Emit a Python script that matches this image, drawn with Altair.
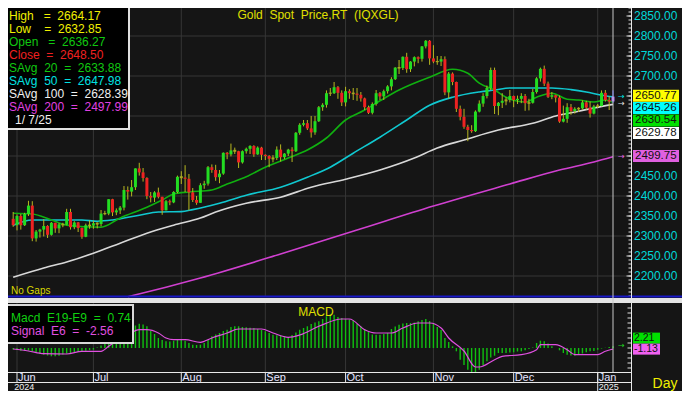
import altair as alt
import pandas as pd

# ---------------- data ----------------
dates = pd.bdate_range("2024-05-31", "2025-01-07")

opens = [2343, 2327, 2350, 2327, 2355, 2376, 2294, 2311, 2316, 2325, 2303, 2333, 2319, 2329, 2328, 2360, 2322, 2334, 2320, 2298, 2327,
         2326, 2332, 2330, 2356, 2356, 2392, 2359, 2364, 2371, 2415, 2411, 2422, 2469, 2459, 2445, 2400, 2396, 2409, 2398, 2364, 2387, 2384, 2410,
         2448, 2446, 2443, 2409, 2390, 2383, 2427, 2431, 2472, 2465, 2447, 2456, 2508, 2504, 2514, 2512, 2484, 2512, 2518, 2525, 2504, 2521,
         2503, 2500, 2493, 2495, 2516, 2497, 2506, 2516, 2512, 2558, 2578, 2582, 2569, 2559, 2587, 2622, 2628, 2657, 2657, 2672, 2658,
         2634, 2662, 2657, 2656, 2653, 2644, 2622, 2608, 2630, 2657, 2649, 2662, 2674, 2692, 2721, 2720, 2748, 2717, 2736, 2747, 2743, 2774, 2788,
         2744, 2736, 2736, 2742, 2659, 2706, 2685, 2618, 2598, 2573, 2565, 2562, 2611, 2631, 2650, 2670, 2715, 2625, 2633, 2638, 2640,
         2650, 2640, 2643, 2650, 2632, 2633, 2660, 2694, 2718, 2681, 2648, 2652, 2646, 2586, 2593, 2622, 2612, 2618, 2619, 2634, 2621, 2606,
         2624, 2625, 2658, 2640, 2636.27]
highs = [2360, 2354, 2355, 2358, 2388, 2387, 2315, 2318, 2342, 2327, 2335, 2333, 2332, 2333, 2368, 2368, 2337, 2335, 2321, 2331, 2339,
         2338, 2334, 2365, 2363, 2392, 2393, 2369, 2375, 2425, 2424, 2440, 2469, 2483, 2470, 2447, 2410, 2412, 2421, 2398, 2390, 2391, 2412, 2451,
         2462, 2477, 2455, 2420, 2400, 2432, 2438, 2475, 2479, 2478, 2465, 2509, 2510, 2531, 2521, 2513, 2514, 2521, 2527, 2527, 2524, 2523,
         2504, 2502, 2502, 2524, 2529, 2507, 2518, 2522, 2560, 2582, 2590, 2590, 2600, 2600, 2625, 2632, 2664, 2670, 2685, 2675, 2664,
         2673, 2667, 2670, 2670, 2660, 2646, 2626, 2634, 2665, 2660, 2666, 2677, 2697, 2722, 2740, 2749, 2758, 2737, 2749, 2749, 2775, 2790, 2790,
         2777, 2750, 2750, 2749, 2710, 2709, 2686, 2626, 2618, 2578, 2577, 2614, 2639, 2657, 2676, 2721, 2721, 2635, 2657, 2647, 2665,
         2651, 2651, 2657, 2655, 2643, 2668, 2697, 2721, 2726, 2686, 2660, 2653, 2651, 2626, 2632, 2630, 2622, 2622, 2639, 2638, 2636, 2628,
         2630, 2664, 2665, 2649, 2664.17]
lows = [2323, 2314, 2316, 2325, 2350, 2287, 2286, 2296, 2299, 2295, 2301, 2308, 2307, 2322, 2327, 2316, 2317, 2310, 2293, 2297, 2318,
        2318, 2319, 2324, 2352, 2352, 2350, 2352, 2355, 2364, 2391, 2399, 2415, 2451, 2436, 2392, 2384, 2385, 2394, 2353, 2364, 2377, 2382, 2407,
        2430, 2410, 2364, 2385, 2378, 2383, 2418, 2426, 2458, 2438, 2432, 2453, 2492, 2499, 2505, 2470, 2481, 2506, 2505, 2498, 2503, 2490,
        2490, 2472, 2484, 2490, 2486, 2492, 2500, 2485, 2510, 2553, 2574, 2565, 2546, 2553, 2585, 2613, 2621, 2650, 2655, 2643, 2625,
        2624, 2643, 2640, 2638, 2636, 2615, 2605, 2604, 2626, 2640, 2640, 2656, 2664, 2690, 2705, 2715, 2708, 2710, 2724, 2732, 2736, 2769, 2728,
        2732, 2728, 2725, 2652, 2644, 2677, 2610, 2589, 2568, 2537, 2558, 2560, 2609, 2623, 2644, 2665, 2605, 2602, 2620, 2627, 2634,
        2622, 2630, 2632, 2613, 2614, 2631, 2656, 2686, 2675, 2645, 2642, 2634, 2583, 2584, 2583, 2603, 2606, 2610, 2616, 2616, 2596, 2604,
        2620, 2624, 2636, 2615, 2632.85]
closes = [2327, 2350, 2327, 2355, 2376, 2294, 2311, 2316, 2325, 2303, 2333, 2319, 2329, 2328, 2360, 2322, 2334, 2320, 2298, 2327, 2326,
          2332, 2330, 2356, 2356, 2392, 2359, 2364, 2371, 2415, 2411, 2422, 2469, 2459, 2445, 2400, 2396, 2409, 2398, 2364, 2387, 2384, 2410, 2448,
          2446, 2443, 2409, 2390, 2383, 2427, 2431, 2472, 2465, 2447, 2456, 2508, 2504, 2514, 2512, 2484, 2512, 2518, 2525, 2504, 2521, 2503,
          2500, 2493, 2495, 2516, 2497, 2506, 2516, 2512, 2558, 2578, 2582, 2569, 2559, 2587, 2622, 2628, 2657, 2657, 2672, 2658, 2634,
          2662, 2657, 2656, 2653, 2644, 2622, 2608, 2630, 2657, 2649, 2662, 2674, 2692, 2721, 2720, 2748, 2717, 2736, 2747, 2743, 2774, 2788, 2744,
          2736, 2736, 2742, 2659, 2706, 2685, 2618, 2598, 2573, 2565, 2562, 2611, 2631, 2650, 2670, 2715, 2625, 2633, 2638, 2640, 2650,
          2640, 2643, 2650, 2632, 2633, 2660, 2694, 2718, 2681, 2648, 2652, 2646, 2586, 2593, 2622, 2612, 2618, 2619, 2634, 2621, 2606, 2624,
          2625, 2658, 2640, 2636, 2648.50]

macd = [-1.5, -2, -2.7, -3, -2.5, -3.3, -5, -6, -6.7, -7.5, -8.3, -8.2, -7.8, -6.5, -5.7, -5.5, -4.5, -4, -3.3, -2.8, -2.2,
        -1.7, 0.5, 2.5, 4, 6, 8, 9.5, 11.7, 14, 17, 20, 22.5, 24.3, 23.5, 21.7, 17, 14, 10, 8, 6.7, 6.5, 7.2, 9,
        9, 7.3, 5, 3.3, 3, 3.3, 5, 8, 11.7, 13.5, 15, 17, 18.3, 21, 21.7, 21.7, 21, 20.7, 20.3, 20, 19, 18,
        16.7, 15, 13.3, 12.8, 12.3, 11.5, 11, 13, 15.5, 18.3, 20, 21.7, 24, 25.5, 26.7, 29, 31.7, 33, 33.3, 31, 30,
        29, 28.5, 27.7, 24, 21.7, 19, 16, 13.5, 13.3, 13.3, 14, 15, 19, 21.5, 23.3, 24.5, 25, 25, 25.5, 26.7, 28, 29, 27,
        25, 21, 18, 10, 6, 1.7, -3.3, -11.7, -17, -21.7, -24.3, -24.5, -21.7, -17, -13.3, -9.5, -7.7, -5, -5, -5, -4.5,
        -4.3, -3.5, -3.3, -2.3, -1, 0.5, 5, 7.3, 6.7, 4.5, 1.7, 0, -2.3, -5, -6.7, -7.5, -7.7, -6.7, -5.5, -4.3, -3.3, -3,
        -1.7, -0.5, 0.2, 1, 1.7]

signal_at = [0, 4, 8, 14, 18, 23, 25, 27, 30, 33, 35, 38, 40, 42, 45, 49, 52, 56, 59, 65, 68, 72, 75, 80, 86, 88, 92, 95, 99,
             102, 106, 109, 112, 114, 118, 121, 122, 126, 128, 133, 137, 138, 142, 145, 147, 153, 155, 157]
signal = [-1, -3, -5.7, -6, -3.3, -3.3, 1.7, 6.7, 13, 18.3, 18.3, 15, 10, 8.3, 8.3, 5.7, 10, 15, 19, 19, 15, 10.7, 13, 21.7, 29, 29,
          18.3, 15, 15, 20, 25, 25, 20, 10, -3, -19, -19, -11.7, -8.3, -6.7, -1.7, 3.3, 3.3, -1.7, -6.7, -6.7, -3.3, -1]

sma20_at = [0, 5, 10, 14, 23, 28, 35, 39, 42, 46, 52, 56, 61, 66, 72, 77, 82, 87, 92, 96, 101, 109, 115, 119, 122, 126, 129,
            134, 137, 141, 145, 148, 152, 155, 157]
sma20 = [2357, 2355, 2340, 2327, 2322, 2345, 2372, 2390, 2405, 2410, 2415, 2430, 2448, 2472, 2495, 2515, 2545, 2590, 2615, 2638,
         2665, 2697, 2717, 2707, 2682, 2665, 2647, 2635, 2647, 2657, 2642, 2640, 2635, 2640, 2634]

sma50_at = [0, 5, 18, 22, 26, 33, 38, 44, 47, 54, 61, 70, 77, 83, 89, 96, 103, 109, 115, 122, 126, 130, 141, 146, 150, 154, 157]
sma50 = [2327, 2340, 2340, 2337, 2340, 2352, 2360, 2361, 2366, 2382, 2402, 2422, 2447, 2472, 2507, 2547, 2590, 2627, 2647, 2660,
         2665, 2670, 2670, 2666, 2660, 2652, 2648]

sma100_at = [0, 8, 14, 21, 28, 35, 42, 49, 53, 61, 70, 78, 87, 96, 105, 111, 118, 127, 136, 142, 148, 152, 157]
sma100 = [2197, 2220, 2235, 2257, 2282, 2307, 2327, 2345, 2360, 2382, 2397, 2422, 2442, 2465, 2495, 2520, 2540, 2565, 2582, 2600,
          2612, 2620, 2629]

sma200_at = [30, 40, 49, 70, 90, 110, 130, 143, 152, 157]
sma200 = [2148, 2172, 2195, 2255, 2315, 2375, 2430, 2465, 2485, 2498]

months = ["Jun", "Jul", "Aug", "Sep", "Oct", "Nov", "Dec", "Jan"]
month_starts = ["2024-06-03", "2024-07-01", "2024-08-01", "2024-09-02", "2024-10-01", "2024-11-01", "2024-12-02", "2025-01-01"]
years = ["2024", "2025"]

# axis labels that are not hidden behind the value tags
price_labels = [2850, 2800, 2750, 2700, 2450, 2400, 2350, 2300, 2250, 2200]
price_major = [2850, 2800, 2750, 2700, 2650, 2600, 2550, 2500, 2450, 2400, 2350, 2300, 2250, 2200]
price_grid = [2200, 2300, 2400, 2500, 2600, 2700, 2800]

legend_lines = ["High   =  2664.17", "Low    =  2632.85", "Open   =  2636.27", "Close  =  2648.50",
                "SAvg  20  =  2633.88", "SAvg  50  =  2647.98", "SAvg  100  =  2628.39", "SAvg  200  =  2497.99",
                "1/ 7/25"]
legend_colors = ["#f0f000", "#f0f000", "#10c810", "#f02020", "#10c810", "#00e0e0", "#f0f0f0", "#e040e0", "#f0f0f0"]

tag_values = [2650.77, 2645.26, 2630.54, 2629.78]
tag_colors = ["#ffff00", "#00ffff", "#00e000", "#ffffff"]
sma200_tag = 2499.75
macd_tag_values = [2.21, -1.13]
macd_tag_colors = ["#00e000", "#f060f0"]

# ---------------- helpers ----------------
NB = "\u00a0"
FONT = "Liberation Sans"
BG = "#151515"
GRID = "#363636"
W, H = 674, 383
AXX = 623.5           # right axis line
XS = alt.Scale(domain=[1, 157], range=[9, 605], zero=False, nice=False)
YP = alt.Scale(domain=[2150, 2870], range=[288, 0], zero=False, nice=False)
YM = alt.Scale(domain=[-24, 45], range=[364, 295], zero=False, nice=False)


def nb(s):
    return s.replace(" ", NB)


one = pd.DataFrame({"a": [0]})
idx = list(range(len(dates)))
ohlc = pd.DataFrame({"i": idx, "o": opens, "h": highs, "l": lows, "c": closes})
ohlc["top"] = ohlc[["o", "c"]].max(axis=1)
ohlc["bot"] = ohlc[["o", "c"]].min(axis=1)
small = (ohlc["top"] - ohlc["bot"]) < 3
ohlc.loc[small, "top"] = ohlc.loc[small, "top"] + 1.5
ohlc.loc[small, "bot"] = ohlc.loc[small, "bot"] - 1.5
ohlc["col"] = ["#22dd22" if c > o else "#ee2222" for o, c in zip(opens, closes)]
ohlc.loc[small, "col"] = "#a8a820"
ohlc.loc[ohlc["i"] == 157, "col"] = "#b070ff"
ohlc["wcol"] = "#b8b820"
ohlc.loc[ohlc["i"] == 157, "wcol"] = "#2030ff"

month_idx = [int(dates.get_loc(pd.Timestamp(d))) for d in month_starts]
mdf = pd.DataFrame({"i": month_idx, "m": months})

x_enc = alt.X("i:Q", scale=XS, axis=None)

# ---------------- price panel ----------------
hgrid = alt.Chart(pd.DataFrame({"v": price_grid})).mark_rule(color=GRID, strokeWidth=1).encode(
    y=alt.Y("v:Q", scale=YP, axis=None), x=alt.value(0), x2=alt.value(AXX))
vgrid_p = alt.Chart(mdf).mark_rule(color=GRID, strokeWidth=1).encode(
    x=x_enc, y=alt.value(-5), y2=alt.value(288))


def ma_line(at, vals, color):
    d = pd.DataFrame({"i": at, "v": vals})
    return alt.Chart(d).mark_line(color=color, strokeWidth=1.6, interpolate="monotone").encode(
        x=x_enc, y=alt.Y("v:Q", scale=YP, axis=None))


lines = [ma_line(sma200_at, sma200, "#d040d0"), ma_line(sma100_at, sma100, "#d8d8d8"),
         ma_line(sma50_at, sma50, "#10c8d0"), ma_line(sma20_at, sma20, "#10b010")]

wicks = alt.Chart(ohlc).mark_rule(strokeWidth=1).encode(
    x=x_enc, y=alt.Y("l:Q", scale=YP, axis=None), y2="h:Q", color=alt.Color("wcol:N", scale=None))
bodies = alt.Chart(ohlc).mark_rule(strokeWidth=3).encode(
    x=x_enc, y=alt.Y("bot:Q", scale=YP, axis=None), y2="top:Q", color=alt.Color("col:N", scale=None))

# right price axis labels and ticks
plab = alt.Chart(pd.DataFrame({"v": price_labels, "t": [f"{v:.2f}" for v in price_labels]})).mark_text(
    align="left", baseline="middle", font=FONT, fontSize=12, color="#00d8d8").encode(
    y=alt.Y("v:Q", scale=YP, axis=None), x=alt.value(626), text="t:N")
minor_ticks = [v for v in range(2150, 2871, 10)]
ptick = alt.Chart(pd.DataFrame({"v": minor_ticks})).mark_rule(color="#e0e0e0", strokeWidth=1).encode(
    y=alt.Y("v:Q", scale=YP, axis=None), x=alt.value(AXX - 3), x2=alt.value(AXX))
ptick_major = alt.Chart(pd.DataFrame({"v": price_major})).mark_rule(color="#e0e0e0", strokeWidth=1).encode(
    y=alt.Y("v:Q", scale=YP, axis=None), x=alt.value(AXX - 5), x2=alt.value(AXX))

# value tags
step = 31
tdf = pd.DataFrame({"v": tag_values, "col": tag_colors})
tdf["pos"] = [tag_values[0] - step * k for k in range(len(tag_values))]
tdf = pd.concat([tdf, pd.DataFrame({"v": [sma200_tag], "col": ["#e060e0"], "pos": [sma200_tag]})], ignore_index=True)
tdf["y1"] = tdf["pos"] + 15
tdf["y2"] = tdf["pos"] - 15
tdf["t"] = [f"{v:.2f}" for v in tdf["v"]]
tag_box = alt.Chart(tdf).mark_rect().encode(
    y=alt.Y("y1:Q", scale=YP, axis=None), y2="y2:Q", x=alt.value(625), x2=alt.value(671),
    color=alt.Color("col:N", scale=None))
tag_txt = alt.Chart(tdf).mark_text(align="left", baseline="middle", font=FONT, fontSize=11.5, color="#101010").encode(
    y=alt.Y("pos:Q", scale=YP, axis=None), x=alt.value(627), text="t:N")

adf = pd.DataFrame({"v": [sma50[-1], sma100[-1], sma200[-1]], "col": ["#00e0e0", "#e0e0e0", "#e060e0"]})
arrows = alt.Chart(adf).mark_text(align="left", baseline="middle", font="DejaVu Sans", fontSize=8, text="\u2192").encode(
    y=alt.Y("v:Q", scale=YP, axis=None), x=alt.value(610), color=alt.Color("col:N", scale=None))

price_panel = alt.layer(hgrid, vgrid_p, *lines, wicks, bodies, ptick, ptick_major, plab, tag_box, tag_txt, arrows)

# ---------------- MACD panel ----------------
mac = pd.DataFrame({"i": idx, "m": macd, "z": [0] * len(idx)})
vgrid_m = alt.Chart(mdf).mark_rule(color=GRID, strokeWidth=1).encode(
    x=x_enc, y=alt.value(295), y2=alt.value(364))
mbars = alt.Chart(mac).mark_rule(color="#10c010", strokeWidth=1.4).encode(
    x=x_enc, y=alt.Y("m:Q", scale=YM, axis=None), y2="z:Q")
sig = alt.Chart(pd.DataFrame({"i": signal_at, "s": signal})).mark_line(
    color="#e050e0", strokeWidth=1.2, interpolate="monotone").encode(
    x=x_enc, y=alt.Y("s:Q", scale=YM, axis=None))
mticks = alt.Chart(pd.DataFrame({"v": list(range(-20, 45, 5))})).mark_rule(color="#e0e0e0").encode(
    y=alt.Y("v:Q", scale=YM, axis=None), x=alt.value(AXX - 4), x2=alt.value(AXX))
mtdf = pd.DataFrame({"v": macd_tag_values, "col": macd_tag_colors})
mtdf["pos"] = [macd_tag_values[1] + 11, macd_tag_values[1]]
mtdf["y1"] = mtdf["pos"] + 5.5
mtdf["y2"] = mtdf["pos"] - 5.5
mtdf["t"] = [f"{v:.2f}" for v in macd_tag_values]
mtag_box = alt.Chart(mtdf).mark_rect().encode(
    y=alt.Y("y1:Q", scale=YM, axis=None), y2="y2:Q", x=alt.value(625), x2=alt.value(652),
    color=alt.Color("col:N", scale=None))
mtag_txt = alt.Chart(mtdf).mark_text(align="left", baseline="middle", font=FONT, fontSize=10.5, color="#101010").encode(
    y=alt.Y("pos:Q", scale=YM, axis=None), x=alt.value(626), text="t:N")
marrow = alt.Chart(pd.DataFrame({"v": [macd[-1]]})).mark_text(
    align="left", baseline="middle", font="DejaVu Sans", fontSize=8, text="\u2192", color="#20d020").encode(
    y=alt.Y("v:Q", scale=YM, axis=None), x=alt.value(610))

macd_panel = alt.layer(vgrid_m, mbars, sig, mticks, mtag_box, mtag_txt, marrow)

# ---------------- decorations / date axis ----------------
def txt(s, x, y, color, size=12, align="left", font=FONT):
    return alt.Chart(one).mark_text(align=align, baseline="middle", font=font, fontSize=size, color=color).encode(
        x=alt.value(x), y=alt.value(y), text=alt.value(nb(s)))


def box(x1, y1, x2, y2, fill, stroke=None, sw=0):
    kw = dict(fill=fill)
    if stroke:
        kw.update(stroke=stroke, strokeWidth=sw)
    return alt.Chart(one).mark_rect(**kw).encode(
        x=alt.value(x1), x2=alt.value(x2), y=alt.value(y1), y2=alt.value(y2))


def hline(y, x1, x2, color, sw=1):
    return alt.Chart(one).mark_rule(color=color, strokeWidth=sw).encode(
        x=alt.value(x1), x2=alt.value(x2), y=alt.value(y))


deco = [
    box(-5, 290, 680, 295, "#e4e4e4"),
    hline(288.5, -5, 680, "#1818c8", 2),
    # date axis frame
    hline(364.5, -5, AXX, "#e8e8e8", 1),
    hline(374.5, -5, AXX, "#e8e8e8", 1),
    alt.Chart(one).mark_rule(color="#e8e8e8").encode(x=alt.value(AXX), y=alt.value(-5), y2=alt.value(383)),
]
cursor = alt.Chart(pd.DataFrame({"i": [157]})).mark_rule(color="#c8c8c8", strokeWidth=1).encode(
    x=x_enc, y=alt.value(-5), y2=alt.value(364))
mtick_lines = alt.Chart(mdf).mark_rule(color="#e8e8e8").encode(
    x=x_enc, y=alt.value(364.5), y2=alt.value(374.5))
jan_line = alt.Chart(mdf[mdf["m"] == "Jan"]).mark_rule(color="#e8e8e8").encode(
    x=x_enc, y=alt.value(364.5), y2=alt.value(383))
mlabels = alt.Chart(mdf).mark_text(align="left", baseline="middle", font=FONT, fontSize=11,
                                   color="#e4e4ff", dx=1).encode(
    x=x_enc, y=alt.value(370), text="m:N")
ydf = pd.DataFrame({"i": [month_idx[0] - 1, month_idx[-1]], "t": years})
ylabels = alt.Chart(ydf).mark_text(align="left", baseline="middle", font=FONT, fontSize=9,
                                   color="#f0f0f0", dx=1).encode(
    x=x_enc, y=alt.value(378.5), text="t:N")

legend = [box(-5, -5, 121, 121, "#000000", "#e0e0e0", 2)]
for k, (s, c) in enumerate(zip(legend_lines, legend_colors)):
    legend.append(txt(s, 7 if k == 8 else 1, 8 + 13 * k, c))

macd_legend = [box(-5, 297, 125, 335, "#000000", "#d8d8d8", 2),
               txt("Macd  E19-E9  =  0.74", 3, 310, "#10d010"),
               txt("Signal  E6  =  -2.56", 3, 323, "#e050e0")]

titles = [
    txt("Gold  Spot  Price,RT  (IQXGL)", 310, 7, "#e0e000", 12, "center"),
    txt("No Gaps", 3, 283, "#d8d800", 10),
    txt("MACD", 308, 304, "#e0e000", 12, "center"),
    txt("Day", 657, 376, "#f0f000", 14, "center"),
]

overlay = alt.layer(*deco, cursor, mtick_lines, jan_line, mlabels, ylabels, *legend, *macd_legend, *titles)

chart = alt.layer(price_panel, macd_panel, overlay).resolve_scale(y="independent").properties(
    width=W, height=H, autosize=alt.AutoSizeParams(type="none"), padding=0,
).configure(background=BG).configure_view(stroke=None)

chart.save("out.html", embed_options={"renderer": "svg", "actions": False})
